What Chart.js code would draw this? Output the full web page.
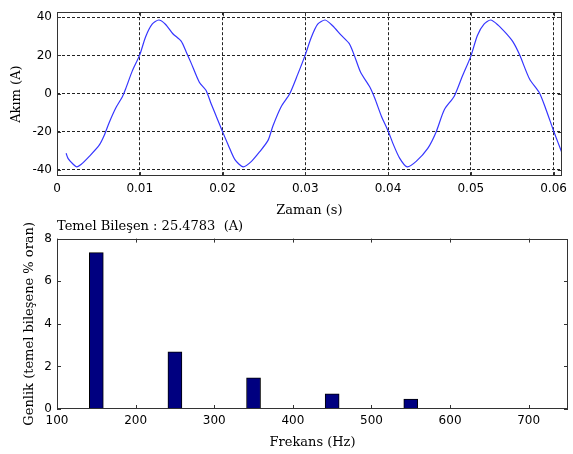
<!DOCTYPE html>
<html><head><meta charset="utf-8">
<script src="https://cdn.jsdelivr.net/npm/chart.js@4"></script>
<style>
html,body{margin:0;padding:0;background:#fff;}
body{width:573px;height:454px;position:relative;overflow:hidden;}
canvas{position:absolute;left:0;}
#c1{top:0;}
#c2{top:210px;}
</style></head><body>
<canvas id="c1" width="573" height="220"></canvas>
<canvas id="c2" width="573" height="244"></canvas>
<script>
// ---- Data: top plot (current waveform) ----
const timeValues = [0.0011,0.00135,0.0019,0.0024,0.0029,0.0039,0.0051,0.0057,0.0063,0.0071,0.0079,0.0083,0.0091,0.0100,0.0107,0.0115,0.0123,0.0131,0.0140,0.0150,0.0156,0.0162,0.0172,0.0180,0.0186,0.0194,0.0200,0.0207,0.0215,0.0225,0.0235,0.0245,0.0255,0.0261,0.0271,0.0281,0.0291,0.0300,0.0307,0.0315,0.0324,0.0333,0.0343,0.0353,0.0359,0.0367,0.0378,0.0384,0.0392,0.0400,0.0406,0.0414,0.0423,0.0434,0.0448,0.0458,0.0468,0.0480,0.0490,0.0500,0.0508,0.0516,0.0524,0.0533,0.0543,0.0551,0.0559,0.0571,0.0583,0.0591,0.0600,0.0610];
const currentValues = [-31.4,-34.2,-36.9,-38.5,-37.3,-33,-27.1,-22,-15.3,-7.6,-1.7,2.5,11.9,20.3,29.7,36.4,38.6,36.4,31.4,27.5,22,16.1,5.9,1.7,-5.1,-13.6,-20,-27.1,-34.7,-38.5,-35.6,-30.5,-24.6,-16.9,-6.8,-0.3,10.2,20.3,29.2,36.4,38.6,35.6,30.8,26.3,20.3,11,3.4,-2.5,-11.9,-19.5,-26.3,-33.9,-38.5,-35.6,-28.8,-20.3,-8.5,-1.4,9.3,19.5,30.5,36.4,38.6,35.9,31.4,27.1,20.3,7.6,0.3,-8.5,-19.5,-31];
const timeTicks = [0,0.01,0.02,0.03,0.04,0.05,0.06];
const currentTicks = [-40,-20,0,20,40];

// ---- Data: bottom plot (harmonic spectrum) ----
const harmonicFreqs = [150,250,350,450,550];
const harmonicAmps = [7.34,2.68,1.46,0.71,0.47];
const freqTicks = [100,200,300,400,500,600,700];
const ampTicks = [0,2,4,6,8];
const fundamentalText = 'Temel Bileşen : 25.4783  (A)';

Chart.defaults.font.family = "'DejaVu Sans', sans-serif";
Chart.defaults.font.size = 12;
Chart.defaults.color = '#000';
Chart.defaults.animation = false;

const serif = {family: "'DejaVu Serif', serif", size: 13};

const framePlugin = {
  id: 'frame',
  afterDraw(chart) {
    const {ctx, chartArea: a, scales: {x, y}} = chart;
    ctx.save();
    ctx.setLineDash([]);
    ctx.strokeStyle = '#333';
    ctx.lineWidth = 1;
    const L = 4;
    ctx.beginPath();
    x.ticks.forEach(t => {
      const px = Math.round(x.getPixelForValue(t.value)) + 0.5;
      ctx.moveTo(px, a.bottom); ctx.lineTo(px, a.bottom - L);
      ctx.moveTo(px, a.top); ctx.lineTo(px, a.top + L);
    });
    y.ticks.forEach(t => {
      const py = Math.round(y.getPixelForValue(t.value)) + 0.5;
      ctx.moveTo(a.left, py); ctx.lineTo(a.left + L, py);
      ctx.moveTo(a.right, py); ctx.lineTo(a.right - L, py);
    });
    ctx.stroke();
    ctx.strokeRect(Math.round(a.left) + 0.5, Math.round(a.top) + 0.5,
                   Math.round(a.right - a.left) - 1, Math.round(a.bottom - a.top) - 1);
    ctx.restore();
  }
};

const setTicks = arr => scale => { scale.ticks = arr.map(v => ({value: v})); };

// ---- Top chart ----
new Chart(document.getElementById('c1'), {
  type: 'line',
  data: {
    datasets: [{
      data: timeValues.map((t, i) => ({x: t, y: currentValues[i]})),
      borderColor: '#3535ff',
      borderWidth: 1.2,
      pointRadius: 0,
      tension: 0.25,
      fill: false
    }]
  },
  options: {
    responsive: false,
    layout: {padding: {top: 7, right: 6, left: 0, bottom: 0}},
    plugins: {legend: {display: false}, tooltip: {enabled: false}},
    scales: {
      x: {
        type: 'linear', min: 0, max: 0.061,
        afterBuildTicks: setTicks(timeTicks),
        afterFit: s => { s.height = 44; },
        grid: {color: '#222', lineWidth: 1, drawTicks: false},
        border: {display: false, dash: [3, 2]},
        ticks: {padding: 6, maxRotation: 0, autoSkip: false, callback: v => String(v)},
        title: {display: true, text: 'Zaman (s)', font: serif, padding: {top: 0, bottom: 2}}
      },
      y: {
        type: 'linear', min: -43.3, max: 42.7,
        afterBuildTicks: setTicks(currentTicks),
        afterFit: s => { s.width = 57; },
        grid: {color: '#222', lineWidth: 1, drawTicks: false},
        border: {display: false, dash: [3, 2]},
        ticks: {padding: 5, autoSkip: false},
        title: {display: true, text: 'Akım (A)', font: serif, padding: {top: 9, bottom: 0}}
      }
    }
  },
  plugins: [framePlugin]
});

// ---- Bottom chart ----
new Chart(document.getElementById('c2'), {
  type: 'bar',
  data: {
    datasets: [{
      data: harmonicFreqs.map((f, i) => ({x: f, y: harmonicAmps[i]})),
      backgroundColor: '#000080',
      borderColor: '#000',
      borderWidth: 1,
      barThickness: 14
    }]
  },
  options: {
    responsive: false,
    layout: {padding: {top: 0, right: 5, left: 0, bottom: 0}},
    plugins: {
      legend: {display: false}, tooltip: {enabled: false},
      title: {display: true, text: fundamentalText, align: 'start', fullSize: false,
              color: '#000', font: {family: "'DejaVu Serif', serif", size: 13, weight: 'normal'},
              padding: {top: 9, bottom: 4}}
    },
    scales: {
      x: {
        type: 'linear', min: 100, max: 750, offset: false,
        afterBuildTicks: setTicks(freqTicks),
        afterFit: s => { s.height = 45; },
        grid: {display: false, drawTicks: false},
        border: {display: false},
        ticks: {padding: 5, maxRotation: 0, autoSkip: false},
        title: {display: true, text: 'Frekans (Hz)', font: serif, padding: {top: 0, bottom: 4}}
      },
      y: {
        type: 'linear', min: 0, max: 8,
        afterBuildTicks: setTicks(ampTicks),
        afterFit: s => { s.width = 57; },
        grid: {display: false, drawTicks: false},
        border: {display: false},
        ticks: {padding: 5, autoSkip: false},
        title: {display: true, text: 'Genlik (temel bileşene % oran)', font: serif, padding: {top: 22, bottom: 0}}
      }
    }
  },
  plugins: [framePlugin]
});
</script>
</body></html>
